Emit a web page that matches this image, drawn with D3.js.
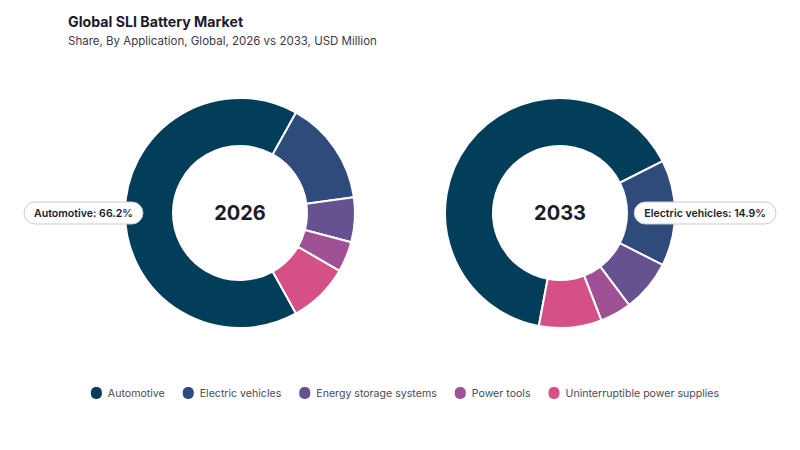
<!DOCTYPE html>
<html>
<head>
<meta charset="utf-8">
<script src="https://cdn.jsdelivr.net/npm/d3@7"></script>
<style>
  body { margin: 0; background: #fff; }
  svg { font-family: Inter, "Noto Sans", sans-serif; }
</style>
</head>
<body>
<div id="chart"></div>
<script>
const categories = ["Automotive", "Electric vehicles", "Energy storage systems", "Power tools", "Uninterruptible power supplies"];
const years = ["2026", "2033"];
const share2026 = [66.2, 14.7, 6.3, 4.3, 8.5];
const share2033 = [64.6, 14.9, 7.3, 4.4, 8.8];
const labelled = [0, 1]; // index of the slice that carries a callout, per donut
const colors = ["#023e5a", "#2f4b7c", "#665191", "#a05195", "#d45087"];

const w = 800, h = 450;
const outerR = 115, innerR = 67;

const svg = d3.select("#chart").append("svg")
    .attr("width", w)
    .attr("height", h);

svg.append("text")
    .attr("x", 68).attr("y", 27)
    .attr("font-size", 14.2).attr("font-weight", 700)
    .attr("fill", "#1c1b2e")
    .text("Global SLI Battery Market");

svg.append("text")
    .attr("x", 68).attr("y", 45)
    .attr("font-size", 11.5)
    .attr("fill", "#3a3a48")
    .text("Share, By Application, Global, 2026 vs 2033, USD Million");

const x = d3.scalePoint().domain(years).range([240, 560]);
const color = d3.scaleOrdinal().domain(categories).range(colors);
const arc = d3.arc().innerRadius(innerR).outerRadius(outerR);

[share2026, share2033].forEach((values, k) => {
    const data = categories.map((c, i) => ({ name: c, value: values[i] }));
    const cx = x(years[k]), cy = 213;

    // rotate so the labelled slice is centred on the horizontal axis
    const raw = d3.pie().sort(null).value(d => d.value)(data);
    const hi = raw[labelled[k]];
    const mid = (hi.startAngle + hi.endAngle) / 2;
    const target = k === 0 ? Math.PI * 1.5 : Math.PI * 0.5;
    const shift = target - mid;
    const arcs = d3.pie().sort(null).value(d => d.value)
        .startAngle(shift).endAngle(shift + Math.PI * 2)(data);

    const g = svg.append("g").attr("transform", `translate(${cx},${cy})`);

    g.selectAll("path")
        .data(arcs)
        .enter().append("path")
        .attr("d", arc)
        .attr("fill", d => color(d.data.name))
        .attr("stroke", "#fff")
        .attr("stroke-width", 2);

    g.append("text")
        .attr("text-anchor", "middle")
        .attr("dy", "0.35em")
        .attr("font-size", 20).attr("font-weight", 700)
        .attr("fill", "#1c1b2e")
        .text(years[k]);

    // callout pill
    const d = data[labelled[k]];
    const lab = g.append("g");
    const t = lab.append("text")
        .attr("font-size", 10.6).attr("font-weight", 600)
        .attr("fill", "#1c1b2e")
        .attr("dy", "0.35em")
        .text(`${d.name}: ${d.value.toFixed(1)}%`);
    const tw = t.node().getComputedTextLength();
    const pw = tw + 20, ph = 22;
    const far = outerR + 101;
    const px = k === 0 ? -far : far - pw;
    lab.insert("rect", "text")
        .attr("x", px).attr("y", -ph / 2)
        .attr("width", pw).attr("height", ph)
        .attr("rx", 11)
        .attr("fill", "#fdfdfe")
        .attr("stroke", "#c9ccd3")
        .attr("stroke-width", 1);
    t.attr("x", px + 10);
});

// legend
const legend = svg.append("g").attr("transform", "translate(0,393)");
const items = legend.selectAll("g.item")
    .data(categories)
    .enter().append("g")
    .attr("class", "item");

items.append("rect")
    .attr("y", -6).attr("width", 11).attr("height", 12)
    .attr("rx", 5)
    .attr("fill", d => color(d));

items.append("text")
    .attr("x", 17).attr("dy", "0.35em")
    .attr("font-size", 10.6)
    .attr("fill", "#4a4a58")
    .text(d => d);

let offset = 0;
const widths = [];
items.each(function () {
    const tw = d3.select(this).select("text").node().getComputedTextLength();
    widths.push(offset);
    offset += 17 + tw + 18;
});
const total = offset - 18;
const start = 405 - total / 2;
items.attr("transform", (d, i) => `translate(${start + widths[i]},0)`);
</script>
</body>
</html>
